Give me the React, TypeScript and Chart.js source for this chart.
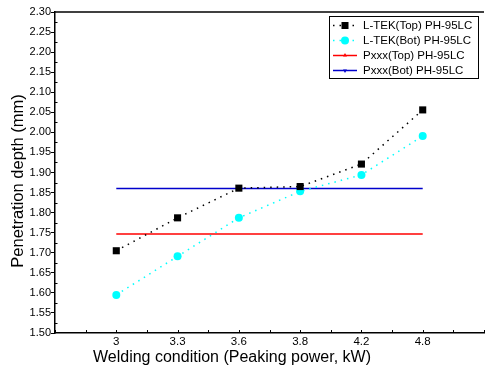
import React, { useEffect, useRef } from "react";
import { Chart, registerables } from "chart.js";
Chart.register(...registerables);

const categories = ["3", "3.3", "3.6", "3.8", "4.2", "4.8"];
const ltekTop = [1.705, 1.787, 1.861, 1.865, 1.921, 2.056];
const ltekBot = [1.595, 1.691, 1.787, 1.853, 1.894, 1.991];
const pxxxTop = [1.747, 1.747, 1.747, 1.747, 1.747, 1.747];
const pxxxBot = [1.860, 1.860, 1.860, 1.860, 1.860, 1.860];
const seriesNames = ["L-TEK(Top) PH-95LC", "L-TEK(Bot) PH-95LC", "Pxxx(Top) PH-95LC", "Pxxx(Bot) PH-95LC"];
const xTitle = "Welding condition (Peaking power, kW)";
const yTitle = "Penetration depth (mm)";

const FONT = "Arial, 'Liberation Sans', sans-serif";

const toPts = (arr: number[]) => arr.map((y, i) => ({ x: i, y }));

const framePlugin = {
  id: "frame",
  afterDraw(chart: any) {
    const { ctx, chartArea } = chart;
    const xs = chart.scales.x;
    const ys = chart.scales.y;
    ctx.save();
    ctx.strokeStyle = "#000";
    ctx.lineWidth = 1.5;
    ctx.beginPath();
    ctx.moveTo(chartArea.left, chartArea.top);
    ctx.lineTo(chartArea.right, chartArea.top);
    ctx.stroke();
    ctx.lineWidth = 1;
    // x inward ticks
    for (let v = -1; v <= 6.001; v += 0.5) {
      const px = Math.round(xs.getPixelForValue(v)) + 0.5;
      ctx.beginPath();
      ctx.moveTo(px, chartArea.bottom);
      ctx.lineTo(px, chartArea.bottom - 3);
      ctx.stroke();
    }
    // y minor inward ticks
    for (let v = 1.525; v < 2.3; v += 0.05) {
      const py = Math.round(ys.getPixelForValue(v)) + 0.5;
      ctx.beginPath();
      ctx.moveTo(chartArea.left, py);
      ctx.lineTo(chartArea.left + 2.5, py);
      ctx.stroke();
    }
    // axis titles
    ctx.fillStyle = "#000";
    ctx.font = `16px ${FONT}`;
    ctx.textAlign = "center";
    ctx.textBaseline = "middle";
    ctx.fillText(xTitle, 232, 358);
    ctx.save();
    ctx.translate(18, 181);
    ctx.rotate(-Math.PI / 2);
    ctx.font = `16.5px ${FONT}`;
    ctx.fillText(yTitle, 0, 0);
    ctx.restore();
    // legend
    const bx = 329, by = 16, bw = 149, bh = 62;
    ctx.lineWidth = 1;
    ctx.fillStyle = "#fff";
    ctx.fillRect(bx, by, bw, bh);
    ctx.strokeStyle = "#000";
    ctx.strokeRect(bx + 0.5, by + 0.5, bw, bh);
    const rows = [25, 40, 55, 70];
    const colors = ["#000000", "#00ffff", "#ff0000", "#0000cc"];
    rows.forEach((ry, i) => {
      const x0 = 333, x1 = 357, xm = 345;
      ctx.strokeStyle = colors[i];
      ctx.fillStyle = colors[i];
      ctx.lineWidth = 1.5;
      if (i < 2) {
        ctx.setLineDash([1.5, 5]);
      } else {
        ctx.setLineDash([]);
      }
      ctx.beginPath();
      ctx.moveTo(x0, ry + 0.5);
      ctx.lineTo(x1, ry + 0.5);
      ctx.stroke();
      ctx.setLineDash([]);
      if (i === 0) {
        ctx.fillRect(xm - 3.5, ry - 3, 7, 7);
      } else if (i === 1) {
        ctx.beginPath();
        ctx.arc(xm, ry + 0.5, 4, 0, Math.PI * 2);
        ctx.fill();
      } else if (i === 2) {
        ctx.beginPath();
        ctx.moveTo(xm, ry - 2);
        ctx.lineTo(xm + 2, ry + 1.5);
        ctx.lineTo(xm - 2, ry + 1.5);
        ctx.closePath();
        ctx.fill();
      } else {
        ctx.beginPath();
        ctx.moveTo(xm, ry + 3);
        ctx.lineTo(xm + 2, ry - 0.5);
        ctx.lineTo(xm - 2, ry - 0.5);
        ctx.closePath();
        ctx.fill();
      }
      ctx.fillStyle = "#000";
      ctx.font = `11.5px ${FONT}`;
      ctx.textBaseline = "middle";
      ctx.textAlign = "left";
      ctx.fillText(seriesNames[i], 363, ry + 1);
    });
    ctx.restore();
  },
};

export default function App() {
  const ref = useRef<HTMLCanvasElement>(null);
  useEffect(() => {
    document.body.style.margin = "0";
    const chart = new Chart(ref.current as HTMLCanvasElement, {
      type: "line",
      data: {
        datasets: [
          {
            label: seriesNames[0],
            data: toPts(ltekTop),
            borderColor: "#000",
            backgroundColor: "#000",
            borderWidth: 1.5,
            borderDash: [1.5, 5],
            pointStyle: "rect",
            pointRadius: 5,
            pointBorderWidth: 0,
            fill: false,
          },
          {
            label: seriesNames[1],
            data: toPts(ltekBot),
            borderColor: "#00ffff",
            backgroundColor: "#00ffff",
            borderWidth: 1.5,
            borderDash: [1.5, 5],
            pointStyle: "circle",
            pointRadius: 4,
            pointBorderWidth: 0,
            fill: false,
          },
          {
            label: seriesNames[2],
            data: toPts(pxxxTop),
            borderColor: "#ff0000",
            backgroundColor: "#ff0000",
            borderWidth: 1.5,
            pointRadius: 0,
            fill: false,
          },
          {
            label: seriesNames[3],
            data: toPts(pxxxBot),
            borderColor: "#0000cc",
            backgroundColor: "#0000cc",
            borderWidth: 1.5,
            pointRadius: 0,
            fill: false,
          },
        ],
      },
      options: {
        animation: false,
        responsive: false,
        layout: { padding: { left: 0, right: 0, top: 12, bottom: 0 } },
        plugins: { legend: { display: false }, tooltip: { enabled: false } },
        scales: {
          x: {
            type: "linear",
            min: -1,
            max: 6,
            grid: { display: false },
            border: { color: "#000", width: 1.5 },
            ticks: {
              stepSize: 1,
              autoSkip: false,
              maxRotation: 0,
              padding: -6,
              color: "#000",
              font: { size: 11.5, family: FONT },
              callback: (v: any) => {
                const i = Number(v);
                return Number.isInteger(i) && i >= 0 && i < categories.length ? categories[i] : "";
              },
            },
            title: { display: false, text: xTitle },
            afterFit: (s: any) => {
              s.height = 37;
            },
          },
          y: {
            min: 1.5,
            max: 2.3,
            grid: { drawOnChartArea: false, drawTicks: true, tickLength: 4, color: "#000" },
            border: { color: "#000", width: 1.5 },
            ticks: {
              stepSize: 0.05,
              autoSkip: false,
              padding: 0,
              color: "#000",
              font: { size: 11, family: FONT },
              callback: (v: any) => Number(v).toFixed(2),
            },
            title: { display: false, text: yTitle },
            afterFit: (s: any) => {
              s.width = 55;
            },
          },
        },
      },
      plugins: [framePlugin],
    });
    return () => chart.destroy();
  }, []);
  return (
    <div style={{ width: 489, height: 370 }}>
      <canvas ref={ref} width={489} height={370} style={{ display: "block" }} />
    </div>
  );
}
